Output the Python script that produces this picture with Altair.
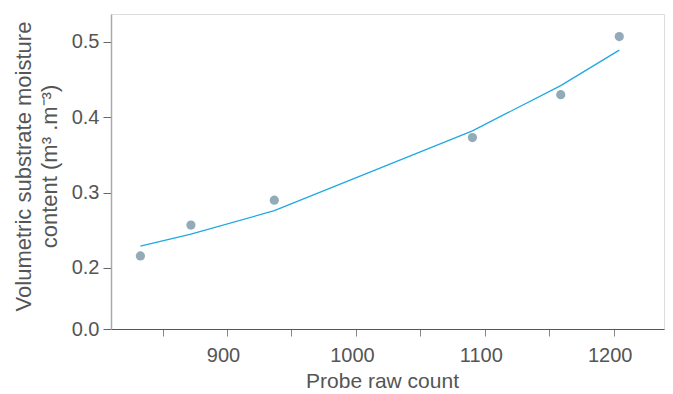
import altair as alt
import pandas as pd

# measured points
raw_count = [832.8, 872.0, 936.7, 1090.4, 1158.9, 1204.3]
moisture = [0.216, 0.257, 0.290, 0.373, 0.430, 0.507]
# fitted curve values at the same counts
fitted = [0.229, 0.245, 0.276, 0.382, 0.442, 0.489]

y_ticks = [0, 0.15, 0.2, 0.25, 0.3, 0.35, 0.4, 0.45, 0.5]
y_major = [0, 0.2, 0.3, 0.4, 0.5]
x_ticks = [850, 900, 950, 1000, 1050, 1100, 1150, 1200]

df = pd.DataFrame({"count": raw_count, "vsmc": moisture, "fit": fitted})

FONT = "Liberation Sans"
major_test = "indexof([0,0.2,0.3,0.4,0.5], datum.value) >= 0"

x_enc = alt.X(
    "count:Q",
    scale=alt.Scale(domain=[810, 1239], nice=False, zero=False),
    axis=alt.Axis(
        title="Probe raw count",
        values=x_ticks,
        labelExpr="datum.value % 100 == 0 ? format(datum.value, 'd') : ''",
        grid=False,
        tickSize=7,
        tickColor="#888888",
        domainColor="#555555",
        labelFont=FONT,
        labelFontSize=20,
        labelColor="#555555",
        labelPadding=9,
        labelOffset=-4,
        titleFont=FONT,
        titleFontSize=21,
        titleFontWeight="normal",
        titleColor="#555555",
        titlePadding=5,
        titleX=271,
    ),
)

y_scale = alt.Scale(domain=[0, 0.15, 0.537], range=[315, 291.67, 0], nice=False, zero=False)

y_axis = alt.Axis(
    title=["Volumetric substrate moisture", "content (m³ .m⁻³)"],
    values=y_ticks,
    labelExpr=f"{major_test} ? format(datum.value, '.1f') : ''",
    grid=False,
    tickSize={"condition": {"test": major_test, "value": 8}, "value": 5},
    tickColor="#666666",
    domainColor="#aaaaaa",
    domainWidth=1.5,
    labelFont=FONT,
    labelFontSize=20,
    labelColor="#555555",
    labelPadding=4,
    titleFont=FONT,
    titleFontSize=22,
    titleLineHeight=26,
    titleFontWeight="normal",
    titleColor="#555555",
    titlePadding=10,
    titleY=152,
)

points = alt.Chart(df).mark_circle(size=85, color="#93abb8", opacity=1).encode(
    x=x_enc,
    y=alt.Y("vsmc:Q", scale=y_scale, axis=y_axis),
)

line = alt.Chart(df).mark_line(color="#1fa9e1", strokeWidth=1.3).encode(
    x=alt.X("count:Q"),
    y=alt.Y("fit:Q"),
)

chart = (
    alt.layer(line, points)
    .properties(
        width=553,
        height=315,
        autosize=alt.AutoSizeParams(type="none"),
        padding={"left": 103, "top": 6, "right": 1, "bottom": 62},
    )
    .configure_view(stroke=None)
    .configure(background="white")
)

chart.save("out.html", embed_options={"renderer": "svg", "actions": False})
